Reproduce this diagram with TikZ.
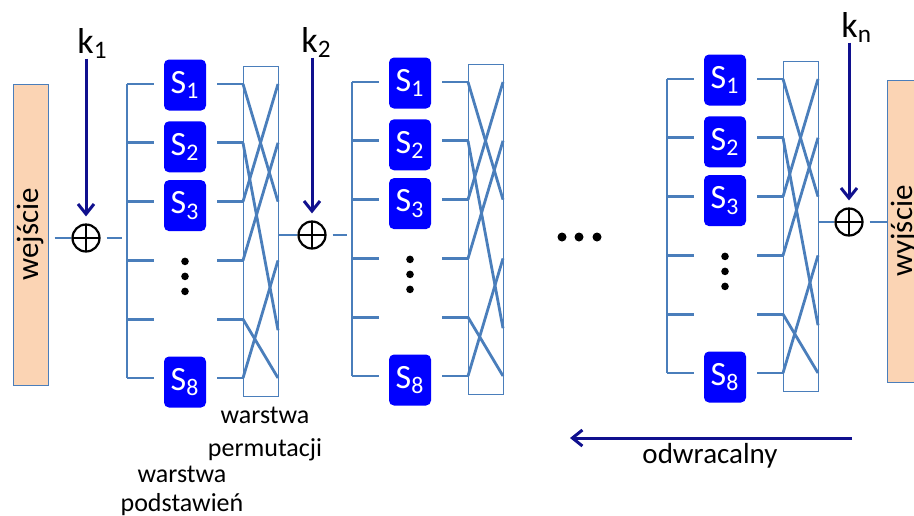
\documentclass[tikz,border=0pt]{standalone}
\usepackage{fontspec}
\setmainfont{Carlito}
\usetikzlibrary{arrows.meta,calc,fit}

\definecolor{wireblue}{HTML}{4A7EBB}
\definecolor{keyblue}{HTML}{10108E}
\definecolor{sblue}{HTML}{0000FF}
\definecolor{peach}{HTML}{FBD4B4}

\tikzset{%
  x=0.5pt,y=-0.5pt, % one unit per pixel, y pointing down
  wire/.style={draw=wireblue,line width=1.4pt},
  sbox/.style={fill=sblue,rounded corners=2.5pt,text=white,inner sep=0pt,
    minimum width=21pt,minimum height=25.5pt,font=\fontsize{17}{17}\selectfont},
  permbox/.style={draw=wireblue,line width=0.5pt,inner sep=0pt},
  iobox/.style={draw=wireblue,line width=0.5pt,fill=peach,inner sep=0pt,
    minimum height=17.5pt,font=\fontsize{15.5}{15.5}\selectfont},
  xor/.style={circle,draw,line width=1.1pt,minimum size=13.5pt,inner sep=0pt,
    path picture={\draw[line width=1.1pt]
      (path picture bounding box.north) -- (path picture bounding box.south)
      (path picture bounding box.west) -- (path picture bounding box.east);}},
  keyarrow/.style={draw=keyblue,line width=1.5pt,
    -{Straight Barb[length=5pt,width=8pt]}},
  keylabel/.style={inner sep=0pt,font=\fontsize{18}{18}\selectfont},
  caption/.style={align=center,inner sep=0pt},
  dot/.style={circle,fill=black,inner sep=0pt,minimum size=3.8pt}
}

% one round: #1 name, #2 x of the bracket, #3 y of the first row
\newcommand\DrawRound[3]{%
  \foreach \i in {1,...,6} {
    \pgfmathsetmacro\rowY{#3+(\i-1)*58.8}
    \pgfmathsetmacro\outY{\rowY+(\i==5)*11} % fifth output sits a bit lower
    \coordinate (#1-b\i) at (#2,\rowY);
    \coordinate (#1-in\i) at (#2+27,\rowY);
    \coordinate (#1-out\i) at (#2+90,\rowY);
    \coordinate (#1-l\i) at (#2+116,\rowY);
    \coordinate (#1-r\i) at (#2+151,\outY);
    \draw[wire] (#1-b\i) -- (#1-in\i);
    \draw[wire] (#1-out\i) -- (#1-l\i);
  }
  \draw[wire] (#1-b1) -- (#1-b6);
  % S-boxes
  \foreach \i/\n/\dy in {1/1/1,2/2/4,3/3/4,6/8/4}
    \node[sbox] (#1-S\n) at ($(#1-in\i)+(31,\dy)$) {S\textsubscript{\n}};
  \foreach \k in {0,1,2}
    \node[dot] (#1-dot\k) at ($(#1-in4)+(31,1+15*\k)$) {};
  % permutation layer
  \node[permbox,fit={($(#1-l1)+(0,-18)$) ($(#1-r6)+(0,18)$)}] (#1-P) {};
  \foreach \a/\b in {1/3,2/5,3/1,4/2,5/6,6/4}
    \draw[wire] (#1-l\a) -- (#1-r\b);
}

\begin{document}
\begin{tikzpicture}

\useasboundingbox (0,0) rectangle (914,515);

% input and output blocks
\node[iobox,minimum width=150.5pt,rotate=90] (input) at (30.5,234.5) {wejście};
\node[iobox,minimum width=151pt,rotate=90] (output) at (904.5,231) {wyjście};

% key additions
\node[xor] (x1) at (86,238) {};
\node[xor] (x2) at (312,235) {};
\node[xor] (x3) at (849,222) {};
\node[keylabel,anchor=base west] (k1) at (77,53) {k\textsubscript{1}};
\node[keylabel,anchor=base west] (k2) at (301,52) {k\textsubscript{2}};
\node[keylabel,anchor=base west] (kn) at (841,37) {k\textsubscript{n}};
\draw[keyarrow,shorten >=3.5pt] (k1.south -| x1) -- (x1.north);
\draw[keyarrow,shorten >=3.5pt] (k2.south -| x2) -- (x2.north);
\draw[keyarrow,shorten >=3.5pt] (kn.south -| x3) -- (x3.north);

% rounds
\DrawRound{r1}{127}{84}
\DrawRound{r2}{352}{82}
\DrawRound{r3}{667}{79}

\draw[wire,shorten <=3pt] (input.south |- x1) -- (x1.west);
\draw[wire,shorten <=3pt,shorten >=2.5pt] (x1.east) -- (x1 -| r1-b1);
\draw[wire] (r1-P.east |- x2) -- (x2.west);
\draw[wire,shorten <=3pt,shorten >=2.5pt] (x2.east) -- (x2 -| r2-b1);
\draw[wire] (r3-P.east |- x3) -- (x3.west);
\draw[wire,shorten <=3pt] (x3.east) -- (output.north |- x3);

% skipped rounds
\node[dot,minimum size=4.5pt] (gap1) at (562,237) {};
\node[dot,minimum size=4.5pt] (gap2) at (579,237) {};
\node[dot,minimum size=4.5pt] (gap3) at (597,237) {};

% layer names
\node[caption,font=\fontsize{13}{16.5}\selectfont] (permlabel) at (265,434)
  {warstwa\\permutacji};
\node[caption,font=\fontsize{13}{14.5}\selectfont] (sublabel) at (182,491)
  {warstwa\\podstawień};

% direction of inversion
\coordinate (rev-start) at (852,438);
\coordinate (rev-end) at (570,438);
\draw[keyarrow,line width=1.5pt] (rev-start) -- (rev-end);
\node[font=\fontsize{14.5}{14.5}\selectfont,inner sep=0pt] (revlabel) at (710,456) {odwracalny};

\end{tikzpicture}
\end{document}
